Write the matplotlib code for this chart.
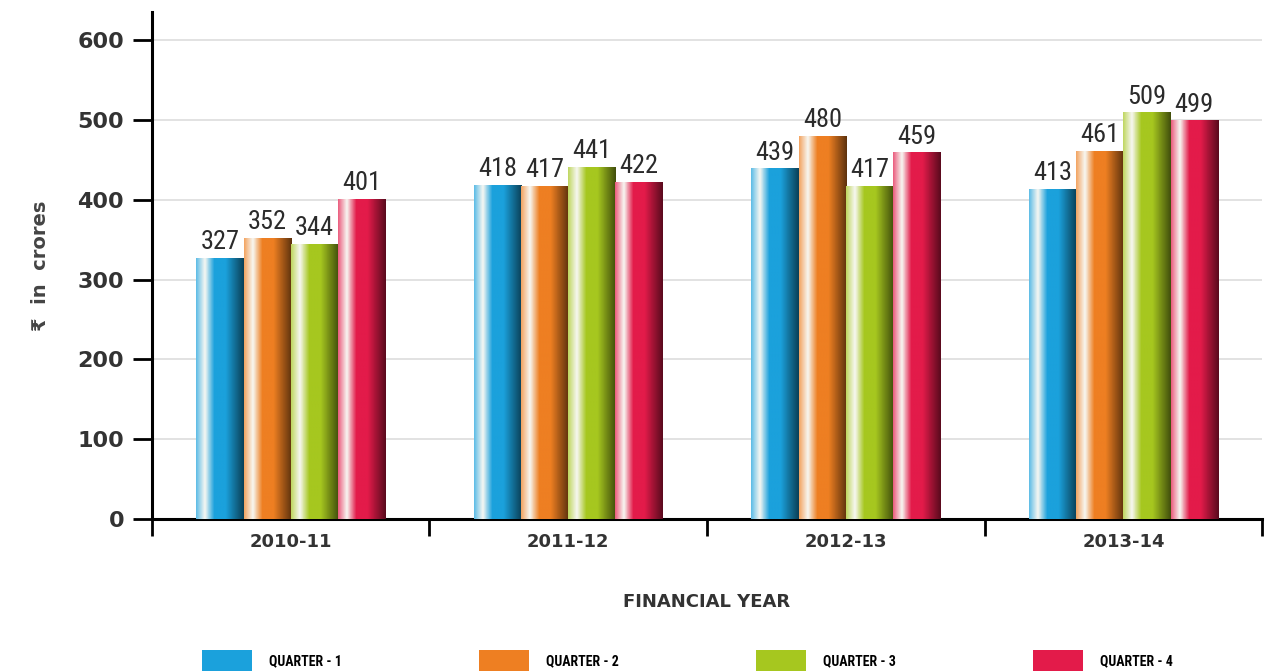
import numpy as np
import matplotlib
matplotlib.use("Agg")
import matplotlib.pyplot as plt
from matplotlib.colors import LinearSegmentedColormap, to_rgb
from matplotlib.patches import Patch
from matplotlib import font_manager

# data
years = ["2010-11", "2011-12", "2012-13", "2013-14"]
q1 = [327, 418, 439, 413]
q2 = [352, 417, 480, 461]
q3 = [344, 441, 417, 509]
q4 = [401, 422, 459, 499]
series_names = ["QUARTER - 1", "QUARTER - 2", "QUARTER - 3", "QUARTER - 4"]
colors = ["#1ba1dc", "#ee7f22", "#a6c71f", "#e31b4a"]

# pick a narrow face if one is installed
installed = {f.name for f in font_manager.fontManager.ttflist}
narrow = [n for n in ["Liberation Sans Narrow", "DejaVu Sans Condensed", "Roboto Condensed"]
          if n in installed] + ["DejaVu Sans"]
is_narrow = narrow[0] != "DejaVu Sans"

fig = plt.figure(figsize=(12.66, 6.71), dpi=100)
ax = fig.add_axes([0.12, 0.2265, 0.877, 0.755])

x = np.arange(len(years))
w = 0.17
all_series = [q1, q2, q3, q4]


def shade(c):
    # cylinder look: light edge, white highlight, base colour, dark side
    r, g, b = to_rgb(c)
    light = (r + (1 - r) * 0.3, g + (1 - g) * 0.3, b + (1 - b) * 0.3)
    dark = (r * 0.4, g * 0.4, b * 0.4)
    return LinearSegmentedColormap.from_list(
        "s", [(0, light), (0.18, (0.97, 0.97, 0.95)), (0.38, c), (0.62, c), (1, dark)])


grad = np.linspace(0, 1, 64).reshape(1, -1)
for i, vals in enumerate(all_series):
    bars = ax.bar(x + (i - 1.5) * w, vals, w, color=colors[i], zorder=2)
    for b in bars:
        bx, by = b.get_x(), b.get_y()
        ax.imshow(grad, cmap=shade(colors[i]), aspect="auto", zorder=3,
                  extent=[bx, bx + b.get_width(), by, by + b.get_height()])
    ax.bar_label(bars, padding=3, fontsize=19 if is_narrow else 15, color="#2b2b2b",
                 family=narrow, fontstretch="condensed")

ax.set_xlim(-0.5, 3.5)
ax.set_ylim(0, 635)

ax.set_yticks(range(0, 601, 100))
ax.yaxis.grid(True, color="#dddddd", linewidth=1.2, zorder=0)
ax.set_axisbelow(True)
ax.tick_params(axis="y", length=14, width=2, labelsize=16, pad=6, labelcolor="#333333")
for t in ax.get_yticklabels():
    t.set_fontweight("bold")

ax.set_xticks(x)
ax.set_xticklabels(years, fontsize=13, fontweight="bold", color="#333333")
ax.tick_params(axis="x", which="major", length=0, pad=10)
ax.set_xticks(np.arange(-0.5, 3.6, 1), minor=True)
ax.tick_params(axis="x", which="minor", length=12, width=2, direction="out")

for s in ["top", "right"]:
    ax.spines[s].set_visible(False)
ax.spines["left"].set_linewidth(2.2)
ax.spines["bottom"].set_linewidth(2.2)

ax.set_xlabel("FINANCIAL YEAR", fontsize=13, fontweight="bold", color="#333333", labelpad=30)
ax.set_ylabel("₹  in  crores", fontsize=14, fontweight="bold", color="#444444", labelpad=20)

handles = [Patch(facecolor=c) for c in colors]
fig.legend(handles, series_names, loc="lower center", bbox_to_anchor=(0.543, -0.02),
           ncol=4, frameon=False, handlelength=3.6, handleheight=2.0,
           columnspacing=9.9 if is_narrow else 9.0, handletextpad=1.2,
           prop={"family": narrow, "size": 10, "weight": "bold", "stretch": "condensed"})

fig.savefig("out.png", dpi=100)
